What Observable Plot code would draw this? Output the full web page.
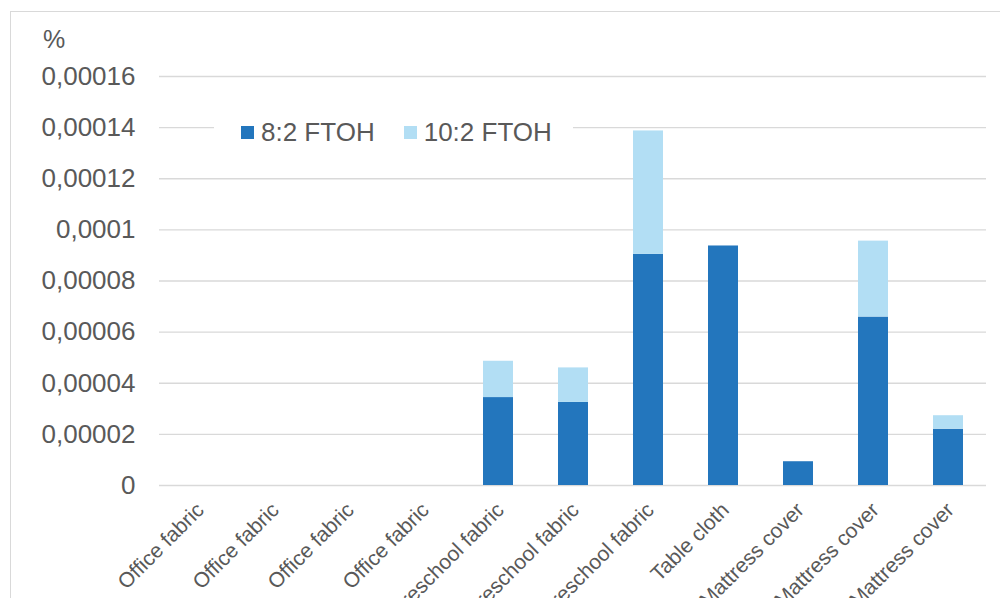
<!DOCTYPE html>
<html>
<head>
<meta charset="utf-8">
<script src="https://cdn.jsdelivr.net/npm/d3@7"></script>
<script src="https://cdn.jsdelivr.net/npm/@observablehq/plot@0.6"></script>
<style>
  html, body { margin: 0; padding: 0; background: #fff; overflow: hidden; }
  #wrap { position: relative; width: 1000px; height: 598px; font-family: "Liberation Sans", Arial, sans-serif; color: #595959; }
  #wrap svg { position: absolute; left: 0; top: 0; }
  #border { position: absolute; left: 10px; top: 11px; width: 1010px; height: 620px; border: 1px solid #d9d9d9; pointer-events: none; }
  #unit { position: absolute; left: 43px; top: 25px; font-size: 25px; }
  #legend { position: absolute; left: 214px; top: 114px; width: 359px; height: 36px; background: #fff; display: flex; align-items: center; font-size: 26px; }
  #legend .sw { display: inline-block; width: 13px; height: 13px; margin-right: 7px; }
  #legend .item { display: flex; align-items: center; white-space: nowrap; }
</style>
</head>
<body>
<div id="wrap">
  <div id="border"></div>
</div>
<script>
const categories = ["Office fabric", "Office fabric", "Office fabric", "Office fabric",
  "Preschool fabric", "Preschool fabric", "Preschool fabric", "Table cloth",
  "Mattress cover", "Mattress cover", "Mattress cover"];
const seriesNames = ["8:2 FTOH", "10:2 FTOH"];
const ftoh82 = [0, 0, 0, 0, 0.0000344, 0.0000325, 0.0000904, 0.0000937, 0.0000093, 0.0000659, 0.0000220];
const ftoh102 = [0, 0, 0, 0, 0.0000142, 0.0000135, 0.0000483, 0, 0, 0.0000297, 0.0000053];
const yTicks = [0, 0.00002, 0.00004, 0.00006, 0.00008, 0.0001, 0.00012, 0.00014, 0.00016];
const colors = ["#2376bd", "#b2def4"];

const ids = categories.map((_, i) => String(i));
const rows = [];
ids.forEach((id, i) => {
  rows.push({id, series: seriesNames[0], value: ftoh82[i]});
  rows.push({id, series: seriesNames[1], value: ftoh102[i]});
});

const fmt = d => String(+d.toFixed(6)).replace(".", ",");

const chart = Plot.plot({
  width: 1000,
  height: 598,
  marginLeft: 159,
  marginRight: 14,
  marginTop: 76,
  marginBottom: 113,
  style: {fontFamily: "Liberation Sans, Arial, sans-serif", color: "#595959", background: "transparent", overflow: "hidden"},
  x: {domain: ids, paddingInner: 0.6, paddingOuter: 0.3},
  y: {domain: [0, 0.00016]},
  color: {domain: seriesNames, range: colors},
  marks: [
    Plot.gridY(yTicks, {stroke: "#d9d9d9", strokeOpacity: 1, strokeWidth: 1.3}),
    Plot.barY(rows, {x: "id", y: "value", fill: "series"}),
    Plot.axisY(yTicks, {tickSize: 0, tickPadding: 24, tickFormat: fmt, fontSize: 26, fill: "#595959", label: null}),
    Plot.axisX({tickSize: 0, tickPadding: 21, tickRotate: -45, tickFormat: i => categories[+i], fontSize: 21, fill: "#595959", label: null, dx: 2})
  ]
});
const wrap = document.getElementById("wrap");
wrap.insertBefore(chart, wrap.firstChild);

const unit = document.createElement("div");
unit.id = "unit";
unit.textContent = "%";
wrap.appendChild(unit);

const legend = document.createElement("div");
legend.id = "legend";
seriesNames.forEach((name, i) => {
  const item = document.createElement("span");
  item.className = "item";
  item.style.marginLeft = i === 0 ? "27px" : "29px";
  const sw = document.createElement("span");
  sw.className = "sw";
  sw.style.background = colors[i];
  item.appendChild(sw);
  item.appendChild(document.createTextNode(name));
  legend.appendChild(item);
});
wrap.appendChild(legend);
</script>
</body>
</html>
